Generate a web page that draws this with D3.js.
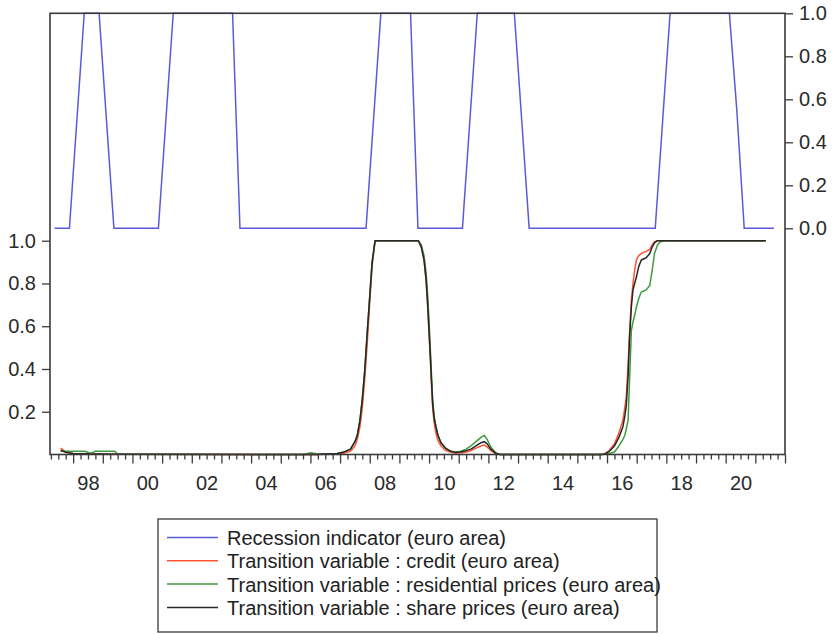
<!DOCTYPE html>
<html>
<head>
<meta charset="utf-8">
<script src="https://cdn.jsdelivr.net/npm/d3@7"></script>
<style>
  html, body { margin: 0; padding: 0; background: #fff; }
  svg { display: block; font-family: "Liberation Sans", Arial, sans-serif; }
</style>
</head>
<body>
<svg id="chart" width="833" height="634"></svg>
<script>
// Recession indicator (euro area), quarterly, first observation 1997Q2
const recessionStart = [1997, 2];
const recession = [
  0, 0, 0,            // 1997 Q2-Q4
  0.5, 1, 1, 1,       // 1998
  0.5, 0, 0, 0,       // 1999
  0, 0, 0, 0,         // 2000
  0.5, 1, 1, 1,       // 2001
  1, 1, 1, 1,         // 2002
  1, 1, 0, 0,         // 2003
  0, 0, 0, 0,         // 2004
  0, 0, 0, 0,         // 2005
  0, 0, 0, 0,         // 2006
  0, 0, 0, 0,         // 2007
  0.5, 1, 1, 1,       // 2008
  1, 1, 0, 0,         // 2009
  0, 0, 0, 0,         // 2010
  0, 0.5, 1, 1,       // 2011
  1, 1, 1, 1,         // 2012
  0.5, 0, 0, 0,       // 2013
  0, 0, 0, 0,         // 2014
  0, 0, 0, 0,         // 2015
  0, 0, 0, 0,         // 2016
  0, 0, 0, 0.5,       // 2017
  1, 1, 1, 1,         // 2018
  1, 1, 1, 1,         // 2019
  1, 0.55, 0, 0,      // 2020
  0, 0, 0             // 2021 Q1-Q3
];

// Observation dates (decimal years) shared by the transition variables
const obsDates = [
  1997.58, 1997.75, 1998.0, 1998.4, 1998.6, 1998.75, 1999.0, 1999.4, 1999.5,
  2005.8, 2006.0, 2006.2, 2006.5, 2006.9, 2007.1, 2007.35, 2007.5, 2007.58,
  2007.67, 2007.75, 2007.83, 2007.92, 2008.0, 2008.08, 2008.18,
  2009.64, 2009.74, 2009.83, 2009.9, 2009.95, 2010.0, 2010.04, 2010.08, 2010.12,
  2010.17, 2010.23, 2010.3, 2010.4, 2010.55, 2010.73, 2010.9, 2011.07, 2011.25,
  2011.41, 2011.58, 2011.75, 2011.86, 2011.96, 2012.08, 2012.25, 2012.4,
  2015.8, 2015.92, 2016.08, 2016.25, 2016.4, 2016.535, 2016.6, 2016.65, 2016.71,
  2016.76, 2016.82, 2016.875, 2016.93, 2016.99, 2017.07, 2017.155, 2017.32,
  2017.44, 2017.52, 2017.6, 2017.7, 2017.8, 2017.94, 2021.35
];

const creditTV = [
  0.03, 0.012, 0.005, 0.003, 0.002, 0.002, 0.002, 0.001, 0.001,
  0, 0, 0, 0.001, 0.003, 0.006, 0.015, 0.04, 0.07,
  0.13, 0.22, 0.35, 0.53, 0.71, 0.88, 1.0,
  1.0, 0.97, 0.91, 0.81, 0.70, 0.56, 0.45, 0.33, 0.22,
  0.15, 0.10, 0.065, 0.04, 0.02, 0.01, 0.006, 0.008, 0.012,
  0.018, 0.03, 0.04, 0.045, 0.035, 0.018, 0.004, 0,
  0, 0.003, 0.02, 0.05, 0.10, 0.16, 0.22, 0.27, 0.42,
  0.57, 0.72, 0.80, 0.86, 0.91, 0.93, 0.94, 0.95,
  0.96, 0.98, 0.995, 1.0, 1.0, 1.0, 1.0
];

const residentialTV = [
  0.015, 0.015, 0.015, 0.015, 0.005, 0.015, 0.015, 0.015, 0.002,
  0, 0.008, 0.003, 0.002, 0.005, 0.01, 0.025, 0.06, 0.09,
  0.16, 0.26, 0.39, 0.58, 0.74, 0.9, 1.0,
  1.0, 0.98, 0.93, 0.85, 0.75, 0.62, 0.50, 0.38, 0.26,
  0.18, 0.13, 0.09, 0.055, 0.03, 0.015, 0.012, 0.015, 0.025,
  0.04, 0.06, 0.08, 0.09, 0.07, 0.035, 0.008, 0,
  0, 0.001, 0.005, 0.012, 0.04, 0.07, 0.09, 0.12, 0.16,
  0.35, 0.58, 0.62, 0.65, 0.69, 0.73, 0.76, 0.77,
  0.79, 0.86, 0.94, 0.98, 0.995, 1.0, 1.0
];

const shareTV = [
  0.02, 0.01, 0.005, 0.003, 0.002, 0.002, 0.002, 0.001, 0.001,
  0, 0, 0, 0.002, 0.005, 0.01, 0.025, 0.06, 0.09,
  0.16, 0.26, 0.39, 0.58, 0.74, 0.9, 1.0,
  1.0, 0.97, 0.91, 0.82, 0.71, 0.58, 0.47, 0.35, 0.24,
  0.17, 0.13, 0.09, 0.055, 0.03, 0.015, 0.01, 0.012, 0.018,
  0.025, 0.04, 0.055, 0.06, 0.05, 0.025, 0.005, 0,
  0, 0.002, 0.015, 0.04, 0.08, 0.13, 0.18, 0.23, 0.37,
  0.55, 0.69, 0.77, 0.80, 0.83, 0.88, 0.91, 0.92,
  0.94, 0.97, 0.99, 1.0, 1.0, 1.0, 1.0
];

const yearLabels = ["98", "00", "02", "04", "06", "08", "10", "12", "14", "16", "18", "20"];
const leftTicks = [0.2, 0.4, 0.6, 0.8, 1.0];
const rightTicks = [0, 0.2, 0.4, 0.6, 0.8, 1.0];

const legendLabels = [
  "Recession indicator (euro area)",
  "Transition variable : credit (euro area)",
  "Transition variable : residential prices (euro area)",
  "Transition variable : share prices (euro area)"
];
const colors = ["#5a5ad8", "#ff5533", "#3f9a3f", "#262626"];

// ---- layout ----
const svg = d3.select("#chart");
const plotL = 50, plotR = 785, plotT = 13.3, plotB = 454.5;

const x = d3.scaleLinear().domain([1997.22, 2022.0]).range([plotL, plotR]);
const yRight = d3.scaleLinear().domain([0, 1]).range([228.3, plotT]);
const yLeft = d3.scaleLinear().domain([0, 1]).range([plotB, 240.7]);

// quarterly mid-period positions for the recession indicator
const recSeries = recession.map((v, i) => {
  const q = recessionStart[1] - 1 + i;
  const year = recessionStart[0] + Math.floor(q / 4);
  const t = year + (q % 4) * 0.25 + 0.125;
  return [t, v];
});

const axisColor = "#3a3a3a";
const fontSize = 20;

// ---- series ----
const lineRight = d3.line().x(d => x(d[0])).y(d => yRight(d[1]));
const lineLeft = d3.line().x(d => x(d[0])).y(d => yLeft(d[1]));

const plot = svg.append("g");
plot.append("path")
  .datum(recSeries)
  .attr("d", lineRight)
  .attr("fill", "none")
  .attr("stroke", colors[0])
  .attr("stroke-width", 1.5);

[[creditTV, colors[1]], [residentialTV, colors[2]], [shareTV, colors[3]]].forEach(([vals, c]) => {
  plot.append("path")
    .datum(obsDates.map((t, i) => [t, vals[i]]))
    .attr("d", lineLeft)
    .attr("fill", "none")
    .attr("stroke", c)
    .attr("stroke-width", 1.5)
    .attr("stroke-linejoin", "round");
});

// ---- frame ----
svg.append("rect")
  .attr("x", plotL).attr("y", plotT)
  .attr("width", plotR - plotL).attr("height", plotB - plotT)
  .attr("fill", "none")
  .attr("stroke", axisColor)
  .attr("stroke-width", 1.6);

// ---- left axis (transition variables) ----
const gl = svg.append("g")
  .attr("transform", `translate(${plotL},0)`)
  .call(d3.axisLeft(yLeft).tickValues(leftTicks).tickFormat(d3.format(".1f")).tickSize(8).tickPadding(6));
gl.select(".domain").remove();

// ---- right axis (recession indicator) ----
const gr = svg.append("g")
  .attr("transform", `translate(${plotR},0)`)
  .call(d3.axisRight(yRight).tickValues(rightTicks).tickFormat(d3.format(".1f")).tickSize(8).tickPadding(6));
gr.select(".domain").remove();

// ---- bottom axis: quarterly minor ticks, yearly major ticks, labels mid-year ----
const quarterTicks = d3.range(1997.25, 2022.001, 0.25);
const minor = quarterTicks.filter(t => Math.abs(t - Math.round(t)) > 1e-6);
const major = quarterTicks.filter(t => Math.abs(t - Math.round(t)) <= 1e-6);
const gb = svg.append("g").attr("transform", `translate(0,${plotB})`);
gb.call(d3.axisBottom(x).tickValues(minor).tickSize(5).tickFormat(""));
gb.select(".domain").remove();
const gb2 = svg.append("g").attr("transform", `translate(0,${plotB})`);
gb2.call(d3.axisBottom(x).tickValues(major).tickSize(9).tickFormat(""));
gb2.select(".domain").remove();
const gb3 = svg.append("g").attr("transform", `translate(0,${plotB})`);
gb3.call(d3.axisBottom(x)
  .tickValues(yearLabels.map((_, i) => 1998.5 + 2 * i))
  .tickFormat((d, i) => yearLabels[i])
  .tickSize(0).tickPadding(21));
gb3.select(".domain").remove();

svg.selectAll(".tick line").attr("stroke", axisColor).attr("stroke-width", 1.3);
svg.selectAll(".tick text")
  .attr("fill", "#2a2a2a")
  .style("font-size", fontSize + "px")
  .style("font-family", '"Liberation Sans", Arial, sans-serif');

// ---- legend ----
const lg = svg.append("g");
lg.append("rect")
  .attr("x", 158).attr("y", 519)
  .attr("width", 499).attr("height", 113)
  .attr("fill", "#fff")
  .attr("stroke", axisColor)
  .attr("stroke-width", 1.3);
legendLabels.forEach((label, i) => {
  const base = 545 + i * 23.3;
  lg.append("line")
    .attr("x1", 167).attr("x2", 218)
    .attr("y1", base - 7.5).attr("y2", base - 7.5)
    .attr("stroke", colors[i]).attr("stroke-width", 1.5);
  lg.append("text")
    .attr("x", 227).attr("y", base)
    .attr("fill", "#222")
    .style("font-size", fontSize + "px")
    .text(label);
});
</script>
</body>
</html>
